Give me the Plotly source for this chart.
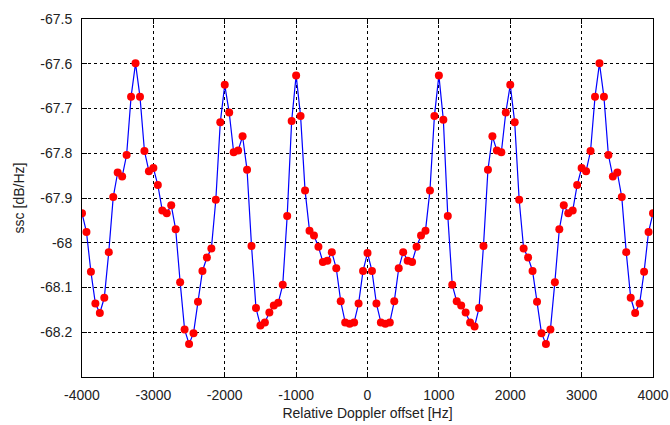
import plotly.graph_objects as go

# Doppler offset grid, 62.5 Hz steps from -4000 to 4000 Hz
doppler_hz = [-4000 + 62.5 * i for i in range(129)]

# Spectral density values [dB/Hz]
ssc_db = [
    -67.934, -67.976, -68.065, -68.136, -68.157, -68.123, -68.021, -67.898,
    -67.843, -67.852, -67.804, -67.674, -67.599, -67.674, -67.795, -67.840,
    -67.833, -67.871, -67.928, -67.934, -67.916, -67.970, -68.088, -68.194,
    -68.226, -68.202, -68.132, -68.063, -68.033, -68.013, -67.904, -67.731,
    -67.647, -67.709, -67.798, -67.794, -67.762, -67.837, -68.007, -68.146,
    -68.185, -68.178, -68.156, -68.140, -68.134, -68.094, -67.940, -67.728,
    -67.626, -67.717, -67.883, -67.973, -67.984, -68.009, -68.043, -68.040,
    -68.021, -68.057, -68.131, -68.178, -68.181, -68.178, -68.136, -68.063,
    -68.023,
    -68.063, -68.136, -68.178, -68.181, -68.178, -68.131, -68.057, -68.021,
    -68.040, -68.043, -68.009, -67.984, -67.973, -67.883, -67.717, -67.626,
    -67.725, -67.940, -68.094, -68.131, -68.140, -68.156, -68.178, -68.187,
    -68.146, -68.007, -67.837, -67.762, -67.794, -67.798, -67.709, -67.647,
    -67.731, -67.904, -68.013, -68.033, -68.063, -68.132, -68.202, -68.226,
    -68.194, -68.088, -67.970, -67.916, -67.934, -67.928, -67.871, -67.833,
    -67.840, -67.795, -67.674, -67.599, -67.674, -67.804, -67.852, -67.843,
    -67.898, -68.021, -68.123, -68.157, -68.136, -68.065, -67.976, -67.934,
]

x_ticks = [-4000, -3000, -2000, -1000, 0, 1000, 2000, 3000, 4000]
x_tick_text = ["-4000", "-3000", "-2000", "-1000", "0", "1000", "2000", "3000", "4000"]
y_ticks = [-68.2, -68.1, -68.0, -67.9, -67.8, -67.7, -67.6, -67.5]
y_tick_text = ["-68.2", "-68.1", "-68", "-67.9", "-67.8", "-67.7", "-67.6", "-67.5"]

text_font = dict(family="Liberation Sans, Arial, sans-serif", size=14, color="#222")

fig = go.Figure()
fig.add_trace(go.Scatter(
    x=doppler_hz, y=ssc_db, mode="lines",
    line=dict(color="#0000ff", width=1.2),
    hoverinfo="skip", showlegend=False,
))
fig.add_trace(go.Scatter(
    x=doppler_hz, y=ssc_db, mode="markers",
    marker=dict(color="#ff0000", size=8, line=dict(width=0)),
    showlegend=False,
))

axis_common = dict(
    showline=True, linecolor="black", linewidth=1, mirror="ticks",
    ticks="inside", ticklen=5, tickcolor="black",
    showgrid=True, gridcolor="black", gridwidth=1, griddash="3px,3px",
    zeroline=False, automargin=False,
    tickfont=text_font,
)

fig.update_xaxes(
    range=[-4000, 4000], tickmode="array", tickvals=x_ticks, ticktext=x_tick_text,
    ticklabelstandoff=5,
    title=dict(text="Relative Doppler offset [Hz]", standoff=6, font=text_font),
    **axis_common,
)
fig.update_yaxes(
    range=[-68.3, -67.5], tickmode="array", tickvals=y_ticks, ticktext=y_tick_text,
    ticklabelstandoff=6,
    title=dict(text="ssc [dB/Hz]", standoff=12, font=text_font),
    **axis_common,
)

fig.update_layout(
    width=670, height=425,
    margin=dict(l=82, r=17, t=19, b=48),
    paper_bgcolor="white", plot_bgcolor="white",
)

fig.write_html("out.html")
